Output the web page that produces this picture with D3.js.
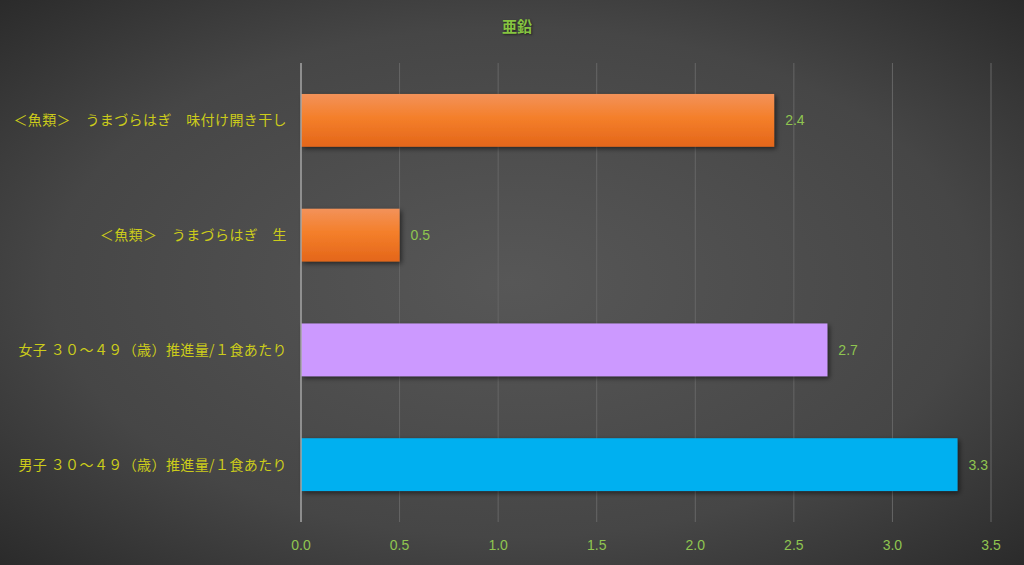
<!DOCTYPE html>
<html>
<head>
<meta charset="utf-8">
<script src="https://cdn.jsdelivr.net/npm/d3@7"></script>
<style>
  html, body { margin: 0; padding: 0; background: #333; }
  svg { display: block; }
</style>
</head>
<body>
<script>
let width = 1024
let height = 565
let margin = {top: 63, right: 33, bottom: 43, left: 301}

let title = "亜鉛"
let categories = [
    "＜魚類＞　うまづらはぎ　味付け開き干し",
    "＜魚類＞　うまづらはぎ　生",
    "女子 ３０～４９（歳）推進量/１食あたり",
    "男子 ３０～４９（歳）推進量/１食あたり"
]
let values = [2.4, 0.5, 2.67, 3.33]
let barColors = ["url(#orangeGrad)", "url(#orangeGrad)", "#cc99ff", "#00b0f0"]
let ticks = [0, 0.5, 1.0, 1.5, 2.0, 2.5, 3.0, 3.5]

let svg = d3.select("body").append("svg")
    .attr("width", width)
    .attr("height", height)

let defs = svg.append("defs")

let bg = defs.append("radialGradient")
    .attr("id", "bgGrad")
    .attr("cx", "50%").attr("cy", "50%").attr("r", "75%")
bg.append("stop").attr("offset", "0%").attr("stop-color", "#575757")
bg.append("stop").attr("offset", "60%").attr("stop-color", "#464646")
bg.append("stop").attr("offset", "100%").attr("stop-color", "#262626")

let og = defs.append("linearGradient")
    .attr("id", "orangeGrad")
    .attr("x1", 0).attr("y1", 0).attr("x2", 0).attr("y2", 1)
og.append("stop").attr("offset", "0%").attr("stop-color", "#f3925a")
og.append("stop").attr("offset", "45%").attr("stop-color", "#f47f2a")
og.append("stop").attr("offset", "100%").attr("stop-color", "#e4661a")

let shadow = defs.append("filter")
    .attr("id", "shadow")
    .attr("x", "-10%").attr("y", "-20%").attr("width", "130%").attr("height", "150%")
shadow.append("feDropShadow")
    .attr("dx", 2).attr("dy", 2).attr("stdDeviation", 2.5)
    .attr("flood-color", "#000").attr("flood-opacity", 0.55)

svg.append("rect")
    .attr("width", width)
    .attr("height", height)
    .attr("fill", "url(#bgGrad)")

let x = d3.scaleLinear()
    .domain([0, 3.5])
    .range([margin.left, width - margin.right])

let y = d3.scaleBand()
    .domain(categories)
    .range([margin.top, height - margin.bottom])
    .paddingInner(0.54)
    .paddingOuter(0.27)

// gridlines
svg.append("g")
    .selectAll("line")
    .data(ticks.slice(1))
    .join("line")
    .attr("x1", d => x(d)).attr("x2", d => x(d))
    .attr("y1", margin.top).attr("y2", height - margin.bottom)
    .attr("stroke", "#666")
    .attr("stroke-width", 1)

// bars
svg.append("g")
    .selectAll("rect")
    .data(values)
    .join("rect")
    .attr("x", x(0))
    .attr("y", (d, i) => y(categories[i]))
    .attr("width", d => x(d) - x(0))
    .attr("height", y.bandwidth())
    .attr("fill", (d, i) => barColors[i])
    .attr("filter", "url(#shadow)")

// zero axis
svg.append("line")
    .attr("x1", x(0)).attr("x2", x(0))
    .attr("y1", margin.top).attr("y2", height - margin.bottom)
    .attr("stroke", "#a6a6a6")
    .attr("stroke-width", 1.5)

// value labels
svg.append("g")
    .selectAll("text")
    .data(values)
    .join("text")
    .attr("x", d => x(d) + 11)
    .attr("y", (d, i) => y(categories[i]) + y.bandwidth() / 2)
    .attr("dy", "0.35em")
    .attr("fill", "#8fc550")
    .attr("font-family", "Liberation Sans Narrow, Liberation Sans, sans-serif")
    .attr("font-size", 14)
    .text(d => d3.format(".1f")(d))

// category labels
svg.append("g")
    .selectAll("text")
    .data(categories)
    .join("text")
    .attr("x", margin.left - 14)
    .attr("y", d => y(d) + y.bandwidth() / 2)
    .attr("dy", "0.35em")
    .attr("text-anchor", "end")
    .attr("fill", "#cccc1a")
    .attr("font-family", "Noto Sans CJK JP, sans-serif")
    .attr("font-size", 14)
    .attr("letter-spacing", 0.4)
    .text(d => d)

// x tick labels
svg.append("g")
    .selectAll("text")
    .data(ticks)
    .join("text")
    .attr("x", d => x(d))
    .attr("y", 545)
    .attr("dy", "0.35em")
    .attr("text-anchor", "middle")
    .attr("fill", "#8fc550")
    .attr("font-family", "Liberation Sans Narrow, Liberation Sans, sans-serif")
    .attr("font-size", 14)
    .text(d => d3.format(".1f")(d))

// title
svg.append("text")
    .attr("x", 517)
    .attr("y", 27)
    .attr("dy", "0.35em")
    .attr("text-anchor", "middle")
    .attr("fill", "#86c440")
    .attr("font-family", "Noto Sans CJK JP, sans-serif")
    .attr("font-weight", "bold")
    .attr("font-size", 15)
    .style("text-shadow", "1px 1px 2px #222")
    .text(title)
</script>
</body>
</html>
